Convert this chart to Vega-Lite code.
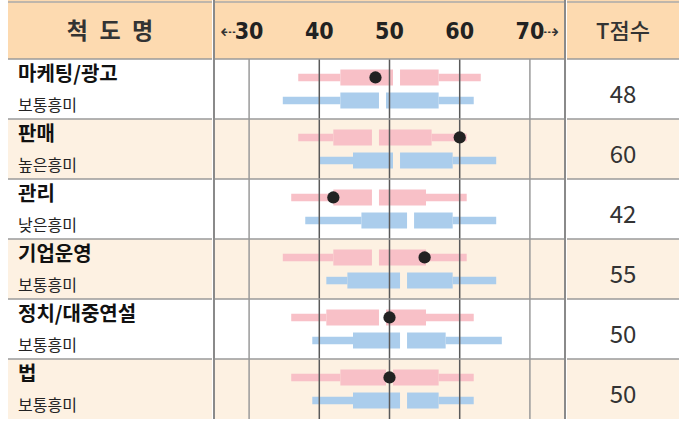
{
  "$schema": "https://vega.github.io/schema/vega-lite/v6.json",
  "padding": {"left": 7, "top": -2, "right": 0, "bottom": 0},
  "spacing": 0,
  "background": "white",
  "config": {"view": {"stroke": null}, "concat": {"spacing": 0}},
  "datasets": {
    "rows": [
      {"row": "r1", "name": "마케팅/광고", "level": "보통흥미", "t": 48},
      {"row": "r2", "name": "판매", "level": "높은흥미", "t": 60},
      {"row": "r3", "name": "관리", "level": "낮은흥미", "t": 42},
      {"row": "r4", "name": "기업운영", "level": "보통흥미", "t": 55},
      {"row": "r5", "name": "정치/대중연설", "level": "보통흥미", "t": 50},
      {"row": "r6", "name": "법", "level": "보통흥미", "t": 50}
    ],
    "boxes": [
      {"row": "r1", "grp": "pink", "min": 37, "q1": 43, "gl": 50.5, "gr": 51.5, "q3": 57, "max": 63},
      {"row": "r1", "grp": "blue", "min": 34.8, "q1": 43, "gl": 48.5, "gr": 49.5, "q3": 57, "max": 62},
      {"row": "r2", "grp": "pink", "min": 37, "q1": 42, "gl": 47.5, "gr": 48.5, "q3": 56, "max": 61},
      {"row": "r2", "grp": "blue", "min": 40, "q1": 44.8, "gl": 50.5, "gr": 51.5, "q3": 59, "max": 65.2},
      {"row": "r3", "grp": "pink", "min": 36, "q1": 42, "gl": 47.5, "gr": 48.5, "q3": 55.2, "max": 61},
      {"row": "r3", "grp": "blue", "min": 38, "q1": 46, "gl": 52.5, "gr": 53.5, "q3": 59, "max": 65.2},
      {"row": "r4", "grp": "pink", "min": 34.8, "q1": 42, "gl": 47.5, "gr": 48.5, "q3": 55.2, "max": 61},
      {"row": "r4", "grp": "blue", "min": 41, "q1": 44, "gl": 51.5, "gr": 52.5, "q3": 59, "max": 65.2},
      {"row": "r5", "grp": "pink", "min": 36, "q1": 41, "gl": 48.5, "gr": 49.5, "q3": 55.2, "max": 62},
      {"row": "r5", "grp": "blue", "min": 39, "q1": 44.8, "gl": 51.5, "gr": 52.5, "q3": 58, "max": 66},
      {"row": "r6", "grp": "pink", "min": 36, "q1": 43, "gl": 49.5, "gr": 50.5, "q3": 57, "max": 62},
      {"row": "r6", "grp": "blue", "min": 39, "q1": 44.8, "gl": 51.5, "gr": 52.5, "q3": 57, "max": 62}
    ],
    "ticks": [
      {"v": 30, "lab": "30"},
      {"v": 40, "lab": "40"},
      {"v": 50, "lab": "50"},
      {"v": 60, "lab": "60"},
      {"v": 70, "lab": "70"}
    ],
    "one": [{}]
  },
  "hconcat": [
    {
      "width": 204,
      "height": 420,
      "layer": [
        {"data": {"name": "rows"}, "mark": {"type": "rect"},
         "encoding": {
           "y": {"field": "row", "type": "ordinal", "scale": {"domain": ["h", "r1", "r2", "r3", "r4", "r5", "r6"], "paddingInner": 0, "paddingOuter": 0}, "axis": null},
           "fill": {"field": "row", "type": "nominal", "scale": {"domain": ["r1", "r2", "r3", "r4", "r5", "r6"], "range": ["#ffffff", "#fdf1e2", "#ffffff", "#fdf1e2", "#ffffff", "#fdf1e2"]}, "legend": null}
         }},
        {"data": {"name": "one"}, "mark": {"type": "rect", "fill": "#fddab0"},
         "encoding": {"y": {"datum": "h", "type": "ordinal"}}},
        {"data": {"name": "one"}, "mark": {"type": "text", "text": "척\u2002도\u2002명", "font": "Noto Sans CJK KR", "fontWeight": "bold", "fontSize": 23, "color": "#333333", "baseline": "middle", "align": "center"},
         "encoding": {
           "x": {"datum": "c", "type": "nominal", "scale": {"type": "band", "paddingInner": 0, "paddingOuter": 0.0543}, "axis": null, "bandPosition": 0.5},
           "y": {"datum": "h", "type": "ordinal", "bandPosition": 0.55}
         }},
        {"data": {"name": "rows"}, "mark": {"type": "rule", "stroke": "#9a9a9a", "strokeWidth": 1.5},
         "encoding": {"y": {"field": "row", "type": "ordinal", "bandPosition": 0}}},
        {"data": {"name": "one"}, "mark": {"type": "rule", "stroke": "#aaaaaa", "strokeWidth": 1.5},
         "encoding": {"y": {"datum": "h", "type": "ordinal", "bandPosition": 0.05}}},
        {"data": {"name": "rows"}, "mark": {"type": "text", "font": "Noto Sans CJK KR", "fontWeight": "bold", "fontSize": 20, "color": "#111111", "baseline": "middle", "align": "left"},
         "encoding": {
           "x": {"datum": "c", "type": "nominal", "bandPosition": 0},
           "y": {"field": "row", "type": "ordinal", "bandPosition": 0.26},
           "text": {"field": "name"}
         }},
        {"data": {"name": "rows"}, "mark": {"type": "text", "font": "Noto Sans CJK KR", "fontSize": 16, "color": "#222222", "baseline": "middle", "align": "left"},
         "encoding": {
           "x": {"datum": "c", "type": "nominal", "bandPosition": 0},
           "y": {"field": "row", "type": "ordinal", "bandPosition": 0.79},
           "text": {"field": "level"}
         }}
      ]
    },
    {
      "width": 351,
      "height": 420,
      "layer": [
        {"data": {"name": "rows"}, "mark": {"type": "rect"},
         "encoding": {
           "y": {"field": "row", "type": "ordinal", "scale": {"domain": ["h", "r1", "r2", "r3", "r4", "r5", "r6"], "paddingInner": 0, "paddingOuter": 0}, "axis": null},
           "fill": {"field": "row", "type": "nominal", "scale": {"domain": ["r1", "r2", "r3", "r4", "r5", "r6"], "range": ["#ffffff", "#fdf1e2", "#ffffff", "#fdf1e2", "#ffffff", "#fdf1e2"]}, "legend": null}
         }},
        {"data": {"name": "boxes"}, "mark": {"type": "rule", "strokeWidth": 7.5},
         "encoding": {
           "x": {"field": "min", "type": "quantitative", "scale": {"domain": [25, 75], "nice": false, "zero": false}, "axis": null},
           "x2": {"field": "q1"},
           "y": {"field": "row", "type": "ordinal"},
           "yOffset": {"field": "grp", "type": "nominal", "scale": {"domain": ["pink", "blue"], "paddingInner": 0, "paddingOuter": 0.3}},
           "stroke": {"field": "grp", "type": "nominal", "scale": {"domain": ["pink", "blue"], "range": ["#f8c0c7", "#abcdec"]}, "legend": null}
         }},
        {"data": {"name": "boxes"}, "mark": {"type": "rule", "strokeWidth": 7.5},
         "encoding": {
           "x": {"field": "q3", "type": "quantitative"},
           "x2": {"field": "max"},
           "y": {"field": "row", "type": "ordinal"},
           "yOffset": {"field": "grp", "type": "nominal"},
           "stroke": {"field": "grp", "type": "nominal", "legend": null}
         }},
        {"data": {"name": "boxes"}, "mark": {"type": "rule", "strokeWidth": 16},
         "encoding": {
           "x": {"field": "q1", "type": "quantitative"},
           "x2": {"field": "gl"},
           "y": {"field": "row", "type": "ordinal"},
           "yOffset": {"field": "grp", "type": "nominal"},
           "stroke": {"field": "grp", "type": "nominal", "legend": null}
         }},
        {"data": {"name": "boxes"}, "mark": {"type": "rule", "strokeWidth": 16},
         "encoding": {
           "x": {"field": "gr", "type": "quantitative"},
           "x2": {"field": "q3"},
           "y": {"field": "row", "type": "ordinal"},
           "yOffset": {"field": "grp", "type": "nominal"},
           "stroke": {"field": "grp", "type": "nominal", "legend": null}
         }},
        {"data": {"name": "ticks"}, "mark": {"type": "rule", "strokeWidth": 1.5},
         "encoding": {
           "x": {"field": "v", "type": "quantitative"},
           "stroke": {"condition": {"test": "datum.v == 30 || datum.v == 70", "value": "#9a9a9a"}, "value": "#5a5a5a"}
         }},
        {"data": {"name": "one"}, "mark": {"type": "rect", "fill": "#fddab0"},
         "encoding": {"y": {"datum": "h", "type": "ordinal"}}},
        {"data": {"name": "ticks"}, "mark": {"type": "text", "font": "Liberation Sans Narrow, DejaVu Sans Condensed, sans-serif", "fontWeight": "bold", "fontSize": 23, "color": "#222222", "baseline": "middle", "align": "center"},
         "encoding": {
           "x": {"field": "v", "type": "quantitative"},
           "y": {"datum": "h", "type": "ordinal", "bandPosition": 0.55},
           "text": {"field": "lab"}
         }},
        {"data": {"name": "one"}, "mark": {"type": "text", "text": "⇠", "font": "DejaVu Sans", "fontSize": 19, "color": "#333333", "baseline": "middle", "align": "right", "dx": -13},
         "encoding": {
           "x": {"datum": 30, "type": "quantitative"},
           "y": {"datum": "h", "type": "ordinal", "bandPosition": 0.55}
         }},
        {"data": {"name": "one"}, "mark": {"type": "text", "text": "⇢", "font": "DejaVu Sans", "fontSize": 19, "color": "#333333", "baseline": "middle", "align": "left", "dx": 13},
         "encoding": {
           "x": {"datum": 70, "type": "quantitative"},
           "y": {"datum": "h", "type": "ordinal", "bandPosition": 0.55}
         }},
        {"data": {"name": "rows"}, "mark": {"type": "rule", "stroke": "#9a9a9a", "strokeWidth": 1.5},
         "encoding": {"y": {"field": "row", "type": "ordinal", "bandPosition": 0}}},
        {"data": {"name": "one"}, "mark": {"type": "rule", "stroke": "#aaaaaa", "strokeWidth": 1.5},
         "encoding": {"y": {"datum": "h", "type": "ordinal", "bandPosition": 0.05}}},
        {"data": {"name": "one"}, "mark": {"type": "rule", "stroke": "#8a8a8a", "strokeWidth": 2},
         "encoding": {"x": {"datum": 25, "type": "quantitative"}}},
        {"data": {"name": "one"}, "mark": {"type": "rule", "stroke": "#8a8a8a", "strokeWidth": 2},
         "encoding": {"x": {"datum": 75, "type": "quantitative"}}},
        {"data": {"name": "rows"}, "mark": {"type": "circle", "size": 150, "color": "#222222", "opacity": 1},
         "encoding": {
           "x": {"field": "t", "type": "quantitative"},
           "y": {"field": "row", "type": "ordinal"},
           "yOffset": {"datum": "pink", "type": "nominal"}
         }}
      ]
    },
    {
      "width": 112,
      "height": 420,
      "layer": [
        {"data": {"name": "rows"}, "mark": {"type": "rect"},
         "encoding": {
           "y": {"field": "row", "type": "ordinal", "scale": {"domain": ["h", "r1", "r2", "r3", "r4", "r5", "r6"], "paddingInner": 0, "paddingOuter": 0}, "axis": null},
           "fill": {"field": "row", "type": "nominal", "scale": {"domain": ["r1", "r2", "r3", "r4", "r5", "r6"], "range": ["#ffffff", "#fdf1e2", "#ffffff", "#fdf1e2", "#ffffff", "#fdf1e2"]}, "legend": null}
         }},
        {"data": {"name": "one"}, "mark": {"type": "rect", "fill": "#fddab0"},
         "encoding": {"y": {"datum": "h", "type": "ordinal"}}},
        {"data": {"name": "one"}, "mark": {"type": "text", "text": "T점수", "font": "Noto Sans CJK KR", "fontWeight": 500, "fontSize": 22, "color": "#333333", "baseline": "middle", "align": "center"},
         "encoding": {
           "x": {"datum": "c", "type": "nominal", "scale": {"type": "band", "paddingInner": 0, "paddingOuter": 0}, "axis": null, "bandPosition": 0.5},
           "y": {"datum": "h", "type": "ordinal", "bandPosition": 0.55}
         }},
        {"data": {"name": "rows"}, "mark": {"type": "rule", "stroke": "#9a9a9a", "strokeWidth": 1.5},
         "encoding": {"y": {"field": "row", "type": "ordinal", "bandPosition": 0}}},
        {"data": {"name": "one"}, "mark": {"type": "rule", "stroke": "#aaaaaa", "strokeWidth": 1.5},
         "encoding": {"y": {"datum": "h", "type": "ordinal", "bandPosition": 0.05}}},
        {"data": {"name": "rows"}, "mark": {"type": "text", "font": "Noto Sans CJK KR", "fontSize": 24, "color": "#333333", "baseline": "middle", "align": "center"},
         "encoding": {
           "x": {"datum": "c", "type": "nominal", "bandPosition": 0.5},
           "y": {"field": "row", "type": "ordinal", "bandPosition": 0.617},
           "text": {"field": "t", "type": "quantitative"}
         }}
      ]
    }
  ]
}
